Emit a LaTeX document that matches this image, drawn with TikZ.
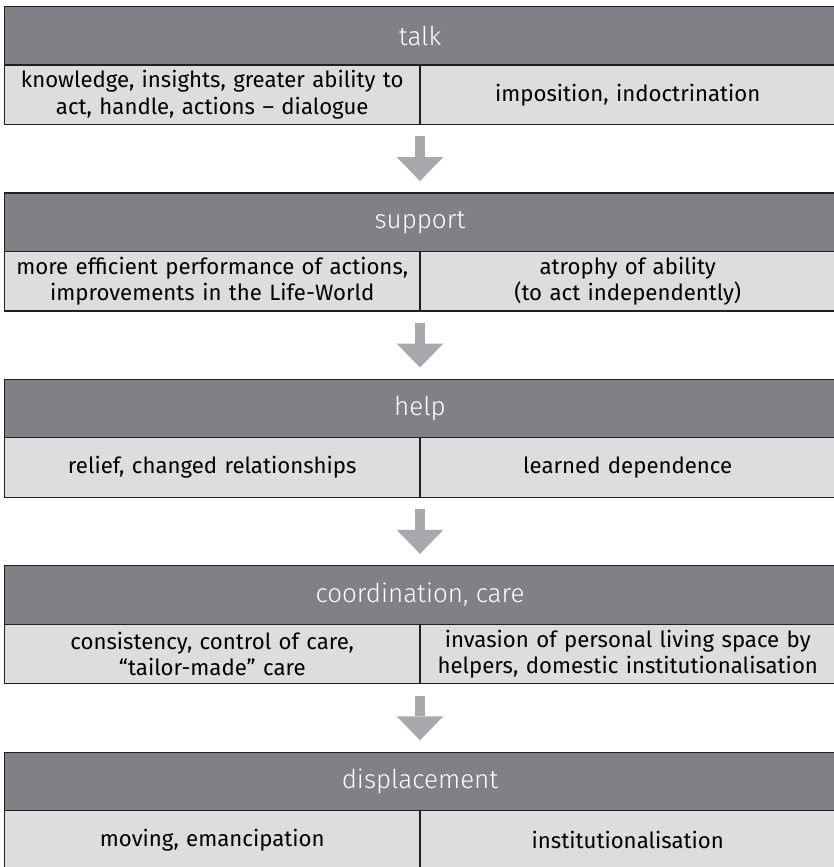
\documentclass[tikz,border=0pt]{standalone}
\usepackage{fontspec}
\setmainfont{Fira Sans}
\newfontfamily\headfont{Fira Sans Light}
\usetikzlibrary{arrows.meta}
\definecolor{headgray}{HTML}{808184}
\definecolor{cellgray}{HTML}{DCDDDE}
\definecolor{arrowgray}{HTML}{A7A9AC}
\definecolor{rulecol}{HTML}{231F20}
\begin{document}
\begin{tikzpicture}[x=1pt,y=-1pt,
  header/.style={draw=rulecol, line width=1.2pt, fill=headgray, text=white,
    minimum width=831pt, minimum height=58.5pt, anchor=north west,
    inner sep=0pt, outer sep=0pt, font=\headfont\fontsize{26}{30}\selectfont},
  cell/.style={draw=rulecol, line width=1.2pt, fill=cellgray, text=black,
    minimum width=415.5pt, minimum height=59.5pt, anchor=north west,
    inner sep=0pt, outer sep=0pt, align=center, text width=410pt,
    font=\fontsize{22.2}{26.5}\selectfont},
  flow/.style={draw=arrowgray, line width=10.7pt,
    -{Triangle[width=46.6pt,length=24pt,line width=0pt 0]},
    shorten <=11.8pt, shorten >=11.8pt}]
\useasboundingbox (0,0) rectangle (834,867);

% block 1
\node[header] (h1) at (4.5,6.5) {talk};
\node[cell] (l1) at (h1.south west) {knowledge, insights, greater ability to\\act, handle, actions – dialogue};
\node[cell] (r1) at (l1.north east) {imposition, indoctrination};

% block 2
\node[header] (h2) at (4.5,192.9) {support};
\node[cell] (l2) at (h2.south west) {more efficient performance of actions,\\improvements in the Life-World};
\node[cell] (r2) at (l2.north east) {atrophy of ability\\(to act independently)};

% block 3
\node[header] (h3) at (4.5,379.3) {help};
\node[cell] (l3) at (h3.south west) {relief, changed relationships};
\node[cell] (r3) at (l3.north east) {learned dependence};

% block 4
\node[header] (h4) at (4.5,565.7) {coordination, care};
\node[cell] (l4) at (h4.south west) {consistency, control of care,\\“tailor-made” care};
\node[cell] (r4) at (l4.north east) {invasion of personal living space by\\helpers, domestic institutionalisation};

% block 5
\node[header] (h5) at (4.5,752.1) {displacement};
\node[cell] (l5) at (h5.south west) {moving, emancipation};
\node[cell] (r5) at (l5.north east) {institutionalisation};

% arrows between the blocks
\draw[flow] (l1.south east) -- (h2.north);
\draw[flow] (l2.south east) -- (h3.north);
\draw[flow] (l3.south east) -- (h4.north);
\draw[flow] (l4.south east) -- (h5.north);
\end{tikzpicture}
\end{document}
